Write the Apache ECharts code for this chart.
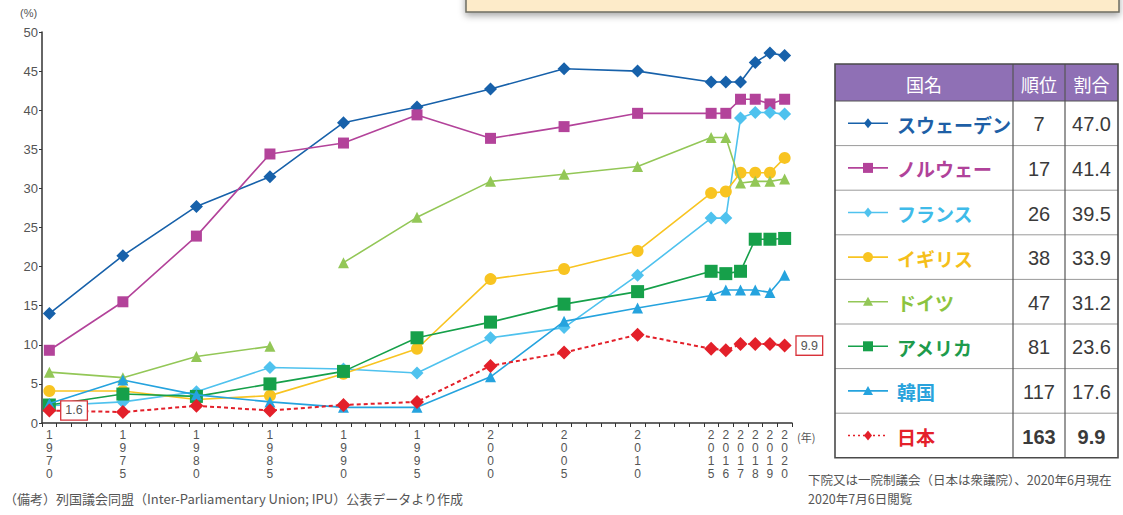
<!DOCTYPE html>
<html><head><meta charset="utf-8">
<script src="https://cdn.jsdelivr.net/npm/echarts@6/dist/echarts.min.js"></script>
<style>html,body{margin:0;padding:0;background:#fff}#c{width:1123px;height:515px}</style>
</head><body><div id="c"></div>
<script>
// ---- data ----
const years   = [1970,1975,1980,1985,1990,1995,2000,2005,2010,2015,2016,2017,2018,2019,2020];
const sweden  = [14.0,21.4,27.7,31.5,38.4,40.4,42.7,45.3,45.0,43.6,43.6,43.6,46.1,47.3,47.0];
const norway  = [9.3,15.5,23.9,34.4,35.8,39.4,36.4,37.9,39.6,39.6,39.6,41.4,41.4,40.8,41.4];
const france  = [2.2,2.7,4.0,7.1,6.9,6.4,10.9,12.2,18.9,26.2,26.2,39.0,39.7,39.7,39.5];
const uk      = [4.1,4.1,3.0,3.5,6.3,9.5,18.4,19.7,22.0,29.4,29.6,32.0,32.0,32.0,33.9];
const germany = [6.5,5.8,8.5,9.8,20.5,26.3,30.9,31.8,32.8,36.5,36.5,30.7,30.9,30.9,31.2];
const germanyGapAfter = 1985;
const usa     = [2.3,3.7,3.4,5.0,6.6,10.9,12.9,15.2,16.8,19.4,19.1,19.4,23.5,23.5,23.6];
const korea   = [2.5,5.5,3.6,2.7,2.0,2.0,5.9,13.0,14.7,16.3,17.0,17.0,17.0,16.7,18.9];
const japan   = [1.6,1.4,2.2,1.6,2.3,2.7,7.3,9.0,11.3,9.5,9.3,10.1,10.1,10.1,9.9];

const tableNames  = ['スウェーデン','ノルウェー','フランス','イギリス','ドイツ','アメリカ','韓国','日本'];
const tableRanks  = ['7','17','26','38','47','81','117','163'];
const tableShares = ['47.0','41.4','39.5','33.9','31.2','23.6','17.6','9.9'];
const headers = ['国名','順位','割合'];
const yTicks = [0,5,10,15,20,25,30,35,40,45,50];

// ---- styles ----
const seriesDefs = [
  {data: sweden,  color:'#1761aa', symbol:'diamond',  size:13},
  {data: norway,  color:'#b3439a', symbol:'rect',     size:11},
  {data: france,  color:'#4fc2ee', symbol:'diamond',  size:13},
  {data: uk,      color:'#f8c421', symbol:'circle',   size:12},
  {data: germany, color:'#93c757', symbol:'triangle', size:11, gap: germanyGapAfter},
  {data: usa,     color:'#16a04a', symbol:'rect',     size:13},
  {data: korea,   color:'#25a3de', symbol:'triangle', size:11},
  {data: japan,   color:'#e3202a', symbol:'diamond',  size:14, dotted:true}
];
const nameColors = ['#1e5fa6','#b0429a','#3fbbe9','#f5bf1a','#8cc43f','#1e9b4c','#2aa3dc','#e4202a'];

const allYears = [];
for (let y = 1970; y <= 2020; y++) allYears.push(String(y));

const fontNum = "'Liberation Sans Narrow','Liberation Sans',Arial,sans-serif";
const fontJP = "'Noto Sans CJK JP',sans-serif";

const series = seriesDefs.map((d, si) => {
  const pts = [];
  years.forEach((yr, i) => {
    const item = {value: [String(yr), d.data[i]]};
    if (d.dotted && (i === 0 || i === years.length - 1)) {
      item.label = {
        show: true, position: 'right', distance: 5,
        formatter: p => p.value[1].toFixed(1),
        color: '#555', fontSize: 12.5, fontFamily: fontNum,
        borderColor: '#d8323a', borderWidth: 1.3, backgroundColor: '#fff',
        padding: [3, 4, 2, 4]
      };
    }
    pts.push(item);
    if (d.gap === yr) pts.push({value: [String(yr + 2), '-']});
  });
  return {
    name: tableNames[si], type: 'line', data: pts, z: 2 + (si === 7 ? 10 : si),
    symbol: d.symbol, symbolSize: d.size, connectNulls: false,
    itemStyle: {color: d.color},
    lineStyle: {color: d.color, width: d.dotted ? 2 : 1.6, type: d.dotted ? [4, 3] : 'solid'},
    emphasis: {disabled: true}, animation: false
  };
});

// ---- table graphics ----
const g = [];
const tX0 = 835, tX1 = 1013, tX2 = 1065, tX3 = 1118;
const hTop = 64, hBot = 101, rowH = 44.6;
const tBot = hBot + rowH * tableNames.length;

g.push({type:'rect', shape:{x:466, y:-12, width:653, height:24},
  style:{fill:'#fdebc9', stroke:'#6e6d62', lineWidth:1.5, shadowBlur:7, shadowColor:'rgba(0,0,0,0.35)', shadowOffsetY:3}});

g.push({type:'rect', shape:{x:tX0, y:hTop, width:tX3 - tX0, height:hBot - hTop},
  style:{fill:'#8f70b5', stroke:'none'}});
g.push({type:'rect', shape:{x:tX0, y:hBot, width:tX3 - tX0, height:tBot - hBot},
  style:{fill:'#fff', stroke:'none'}});
const hcx = [(tX0 + tX1) / 2, (tX1 + tX2) / 2, (tX2 + tX3) / 2];
headers.forEach((h, i) => g.push({type:'text', style:{text:h, x:hcx[i], y:(hTop + hBot) / 2 + 1,
  textAlign:'center', textVerticalAlign:'middle', fill:'#fff', font:'18px ' + fontJP}}));
for (let r = 1; r < tableNames.length; r++) {
  const yy = hBot + rowH * r;
  g.push({type:'line', shape:{x1:tX0, y1:yy, x2:tX3, y2:yy}, style:{stroke:'#9a9a9a', lineWidth:1}});
}
[tX1, tX2].forEach(x => g.push({type:'line', shape:{x1:x, y1:hTop, x2:x, y2:tBot}, style:{stroke:'#555', lineWidth:1.2}}));
g.push({type:'line', shape:{x1:tX0, y1:hBot, x2:tX3, y2:hBot}, style:{stroke:'#555', lineWidth:1.2}});
g.push({type:'rect', shape:{x:tX0, y:hTop, width:tX3 - tX0, height:tBot - hTop},
  style:{fill:'none', stroke:'#4a4a4a', lineWidth:1.6}});

function markerShape(sym, cx, cy, s, color) {
  const h = s / 2;
  if (sym === 'diamond') return {type:'polygon', shape:{points:[[cx, cy - h], [cx + h * 0.8, cy], [cx, cy + h], [cx - h * 0.8, cy]]}, style:{fill:color}};
  if (sym === 'rect') return {type:'rect', shape:{x:cx - h, y:cy - h, width:s, height:s}, style:{fill:color}};
  if (sym === 'circle') return {type:'circle', shape:{cx:cx, cy:cy, r:h}, style:{fill:color}};
  return {type:'polygon', shape:{points:[[cx, cy - h], [cx + h, cy + h * 0.8], [cx - h, cy + h * 0.8]]}, style:{fill:color}};
}
tableNames.forEach((nm, r) => {
  const cy = hBot + rowH * (r + 0.5);
  const d = seriesDefs[r];
  g.push({type:'line', shape:{x1:848, y1:cy, x2:888, y2:cy},
    style:{stroke:d.color, lineWidth:1.6, lineDash: d.dotted ? [2, 3] : null}});
  g.push(markerShape(d.symbol, 868, cy, 10, d.color));
  g.push({type:'text', style:{text:nm, x:897, y:cy + 1, textAlign:'left', textVerticalAlign:'middle',
    fill:nameColors[r], font:'bold 19px ' + fontJP}});
  const bold = r === tableNames.length - 1 ? 'bold ' : '';
  g.push({type:'text', style:{text:tableRanks[r], x:hcx[1], y:cy + 1, textAlign:'center', textVerticalAlign:'middle',
    fill:'#3a3a3a', font:bold + '20px ' + fontNum}});
  g.push({type:'text', style:{text:tableShares[r], x:hcx[2], y:cy + 1, textAlign:'center', textVerticalAlign:'middle',
    fill:'#3a3a3a', font:bold + '20px ' + fontNum}});
});

g.push({type:'text', style:{text:'(%)', x:20, y:13, textAlign:'left', textVerticalAlign:'middle', fill:'#555', font:'11px ' + fontNum}});
g.push({type:'text', style:{text:'(年)', x:797, y:437, textAlign:'left', textVerticalAlign:'middle', fill:'#555', font:'11px ' + fontJP}});
g.push({type:'text', style:{text:'（備考）列国議会同盟（Inter-Parliamentary Union; IPU）公表データより作成', x:4, y:498,
  textAlign:'left', textVerticalAlign:'middle', fill:'#555', font:'13px ' + fontJP}});
g.push({type:'text', style:{text:'下院又は一院制議会（日本は衆議院）、2020年6月現在', x:808, y:479,
  textAlign:'left', textVerticalAlign:'middle', fill:'#555', font:'12.5px ' + fontJP}});
g.push({type:'text', style:{text:'2020年7月6日閲覧', x:808, y:498,
  textAlign:'left', textVerticalAlign:'middle', fill:'#555', font:'12.5px ' + fontJP}});

const chart = echarts.init(document.getElementById('c'), null, {renderer:'svg'});
chart.setOption({
  animation: false,
  backgroundColor: '#fff',
  grid: {left: 42, right: 331, top: 32, bottom: 92, containLabel: false},
  xAxis: {
    type: 'category', data: allYears, boundaryGap: true,
    axisLine: {lineStyle: {color: '#333', width: 1.5}},
    axisTick: {show: true, interval: 0, length: 4, lineStyle: {color: '#333'}},
    axisLabel: {
      interval: (idx, val) => years.includes(+val),
      formatter: v => String(v).split('').join('\n'),
      color: '#555', fontSize: 12, lineHeight: 13, margin: 5,
      fontFamily: fontNum
    },
    splitLine: {show: false}
  },
  yAxis: {
    type: 'value', min: yTicks[0], max: yTicks[yTicks.length - 1], interval: 5,
    axisLine: {show: true, lineStyle: {color: '#333', width: 1.5}},
    axisTick: {show: true, length: 3, lineStyle: {color: '#333'}},
    axisLabel: {color: '#555', fontSize: 13, margin: 4, fontFamily: fontNum},
    splitLine: {show: false}
  },
  graphic: {elements: g},
  series: series
});
</script>
</body></html>
